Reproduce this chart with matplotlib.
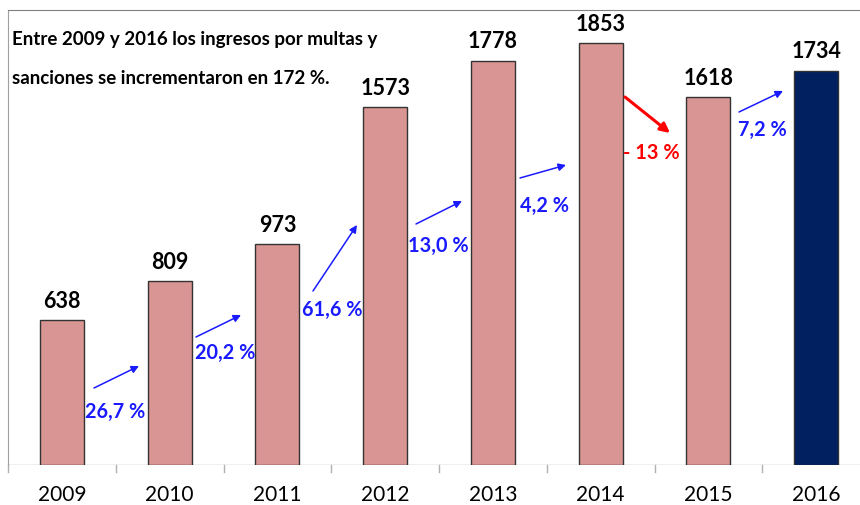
import matplotlib
matplotlib.use("Agg")
import matplotlib.pyplot as plt

years = ["2009", "2010", "2011", "2012", "2013", "2014", "2015", "2016"]
values = [638, 809, 973, 1573, 1778, 1853, 1618, 1734]
changes = ["26,7 %", "20,2 %", "61,6 %", "13,0 %", "4,2 %", "- 13 %", "7,2 %"]
title_lines = ["Entre 2009 y 2016 los ingresos por multas y",
               "sanciones se incrementaron en 172 %."]

plt.rcParams['font.family'] = ['Lato', 'DejaVu Sans']

W, H = 860, 506
fig = plt.figure(figsize=(W / 100, H / 100), dpi=100)
ax_left, ax_right, ax_top, ax_bottom = 8, 870, 11, 466
ax = fig.add_axes([ax_left / W, (H - ax_bottom) / H, (ax_right - ax_left) / W, (ax_bottom - ax_top) / H])

n = len(years)
colors = ["#D99594"] * (n - 1) + ["#002060"]
xs = list(range(n))
ax.bar(xs, values, width=0.41, color=colors, edgecolor="#333333", linewidth=1.0, zorder=3)
ax.set_xlim(-0.5, n - 0.5)
ax.set_ylim(0, 2000)

for x, v in zip(xs, values):
    ax.text(x, v + 40, str(v), ha="center", va="bottom", fontsize=15.5, fontweight="bold", color="black")

# axes styling
for s in ["right", "bottom"]:
    ax.spines[s].set_visible(False)
ax.spines["left"].set_color("#a0a0a0")
ax.spines["top"].set_color("#808080")
ax.axhline(0, color="#b0b0b0", linewidth=1.0, zorder=2)
ax.set_yticks([])
ax.set_xticks(xs)
ax.set_xticklabels(years, fontsize=15)
ax.tick_params(axis="x", length=0, pad=14)
for b in [i - 0.5 for i in range(n + 1)]:
    ax.plot([b, b], [0, -30], color="#b0b0b0", linewidth=1.0, clip_on=False)


def px2data(px, py):
    xd = (px - ax_left) / ((ax_right - ax_left) / n) - 0.5
    yd = (ax_bottom - py) / (ax_bottom - ax_top) * 2000
    return xd, yd

# annotation geometry in pixel units (arrow start, arrow end, label centre)
arrow_px = [
    ((94, 389), (139, 367), (115, 412)),
    ((196, 338), (241, 316), (225, 353)),
    ((313, 292), (357, 226), (332, 310)),
    ((416, 225), (462, 202), (438, 246)),
    ((520, 179), (566, 166), (544, 206)),
    ((625, 98), (670, 134), (651, 153)),
    ((739, 113), (783, 92), (762, 130)),
]

for lbl, (s, e, t) in zip(changes, arrow_px):
    neg = lbl.startswith("-")
    col = "#FF0000" if neg else "#1A1AFF"
    lw = 2.2 if neg else 1.1
    ax.annotate("", xy=px2data(*e), xytext=px2data(*s),
                arrowprops=dict(arrowstyle="-|>", color=col, lw=lw,
                                mutation_scale=14 if neg else 11,
                                shrinkA=0, shrinkB=0), zorder=4)
    ax.text(*px2data(*t), lbl, ha="center", va="center", fontsize=14.3,
            fontweight="bold", color=col, zorder=4)

for line, py in zip(title_lines, [40, 78]):
    fig.text(12 / W, 1 - py / H, line, ha="left", va="center", fontsize=13.5,
             fontweight="bold", color="black")

fig.savefig("out.png", dpi=100)
